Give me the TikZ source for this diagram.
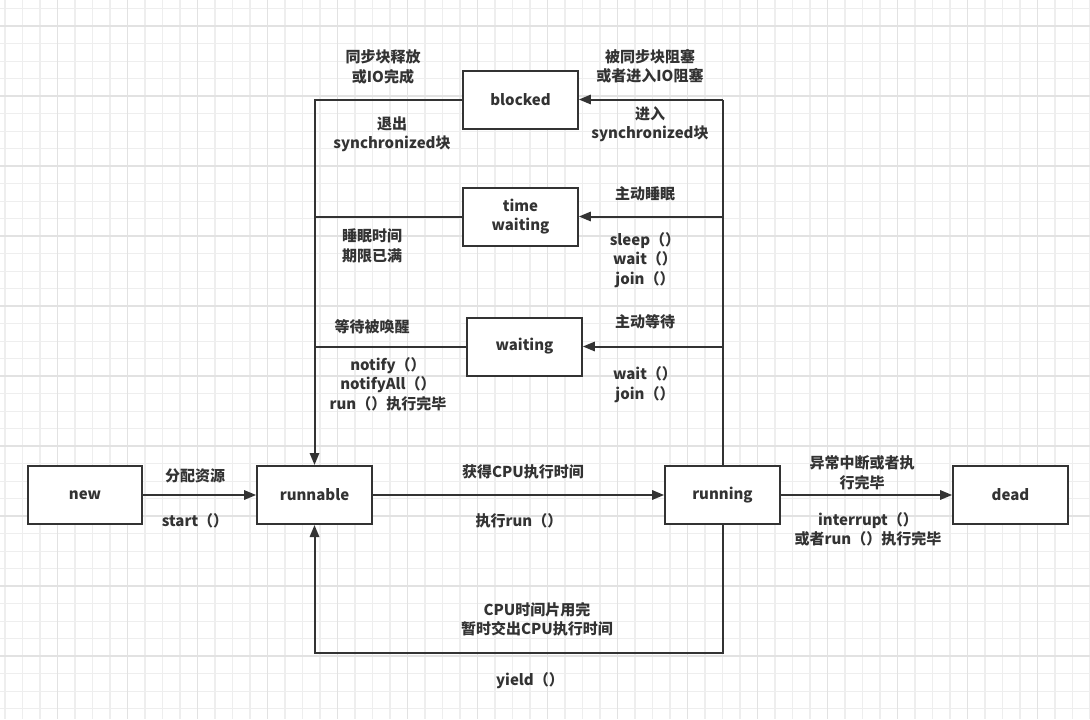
\documentclass[tikz,border=0pt]{standalone}
\usepackage{fontspec}
\setmainfont{Noto Sans CJK SC}
\usetikzlibrary{arrows.meta}
\definecolor{ink}{HTML}{333333}
\definecolor{gminor}{HTML}{EEEEEE}
\definecolor{gmajor}{HTML}{E2E2E2}
\tikzset{
  stbox/.style={draw=ink, line width=1.5pt, fill=white, minimum width=86pt, minimum height=43.5pt, inner sep=0pt, text=ink, font=\fontsize{11.25}{14.6}\selectfont\bfseries, align=center},
  lbl/.style={text=ink, font=\fontsize{11.25}{14.6}\selectfont\bfseries, align=center, inner sep=0pt},
  conn/.style={draw=ink, line width=1.5pt},
  arr/.style={conn, -{Triangle[length=9pt,width=7pt]}}
}
\begin{document}
\begin{tikzpicture}[x=0.75pt,y=-0.75pt]
\useasboundingbox (0,0) rectangle (1090,719);
\fill[white] (0,0) rectangle (1090,719);
% grid
\foreach \i in {0,...,62} {
  \pgfmathsetmacro{\gx}{5+17.5*\i}
  \draw[gminor, line width=1pt] (\gx,0) -- (\gx,719);
}
\foreach \j in {0,...,40} {
  \pgfmathsetmacro{\gy}{8.7+17.5*\j}
  \draw[gminor, line width=1pt] (0,\gy) -- (1090,\gy);
}
\foreach \i in {0,...,15} {
  \pgfmathsetmacro{\gx}{57.5+70*\i}
  \draw[gmajor, line width=1.2pt] (\gx,0) -- (\gx,719);
}
\foreach \j in {0,...,10} {
  \pgfmathsetmacro{\gy}{26.2+70*\j}
  \draw[gmajor, line width=1.2pt] (0,\gy) -- (1090,\gy);
}
% nodes
\node[stbox] (new) at (85,495) {new};
\node[stbox] (runnable) at (314.5,495) {runnable};
\node[stbox] (running) at (722.5,495) {running};
\node[stbox] (dead) at (1010.5,495) {dead};
\node[stbox] (blocked) at (520.5,99.5) {blocked};
\node[stbox] (tw) at (520.5,216.5) {time\\waiting};
\node[stbox] (waiting) at (524.5,346.5) {waiting};
\coordinate (bl) at (0,652.5);
% connectors
\draw[arr] (new) -- (runnable);
\draw[arr] (runnable) -- (running);
\draw[arr] (running) -- (dead);
\draw[conn] (running.north) -- (running.north |- blocked.east);
\draw[arr] (running.north |- blocked.east) -- (blocked.east);
\draw[arr] (running.north |- tw.east) -- (tw.east);
\draw[arr] (running.north |- waiting.east) -- (waiting.east);
\draw[arr] (blocked.west) -- (blocked.west -| runnable.north) -- (runnable.north);
\draw[conn] (tw.west) -- (tw.west -| runnable.north);
\draw[conn] (waiting.west) -- (waiting.west -| runnable.north);
\draw[arr] (running.south) -- (running.south |- bl) -- (runnable.south |- bl) -- (runnable.south);
% labels
\node[lbl] (l1) at (383,67) {同步块释放\\或IO完成};
\node[lbl] (l2) at (650,66) {被同步块阻塞\\或者进入IO阻塞};
\node[lbl] (l3) at (392,134) {退出\\synchronized块};
\node[lbl] (l4) at (650,124) {进入\\synchronized块};
\node[lbl] (l5) at (645,194) {主动睡眠};
\node[lbl] (l6) at (645,260) {sleep（）\\wait（）\\join（）};
\node[lbl] (l7) at (372,246) {睡眠时间\\期限已满};
\node[lbl] (l8) at (372,327) {等待被唤醒};
\node[lbl] (l9) at (388,384) {notify（）\\notifyAll（）\\run（）执行完毕};
\node[lbl] (l10) at (645,322) {主动等待};
\node[lbl] (l11) at (645,384.5) {wait（）\\join（）};
\node[lbl] (l12) at (195,476) {分配资源};
\node[lbl] (l13) at (195,521) {start（）};
\node[lbl] (l14) at (523,472) {获得CPU执行时间};
\node[lbl] (l15) at (519,521) {执行run（）};
\node[lbl] (l16) at (862,472.5) {异常中断或者执\\行完毕};
\node[lbl] (l17) at (868,529.5) {interrupt（）\\或者run（）执行完毕};
\node[lbl] (l18) at (537,619) {CPU时间片用完\\暂时交出CPU执行时间};
\node[lbl] (l19) at (530,681) {yield（）};
\end{tikzpicture}
\end{document}
